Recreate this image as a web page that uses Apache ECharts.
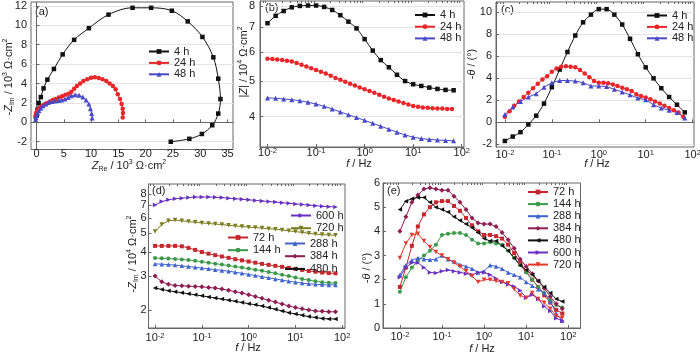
<!DOCTYPE html>
<html><head><meta charset="utf-8">
<script src="https://cdn.jsdelivr.net/npm/echarts@6/dist/echarts.min.js"></script>
<style>html,body{margin:0;padding:0;background:#fff}#c{width:700px;height:355px}</style>
</head><body><div id="c"></div>
<script>
// ---------- frequencies (Hz) ----------
const F6 = [0.01,0.0147,0.0215,0.0316,0.0464,0.0681,0.1,0.147,0.215,0.316,0.464,0.681,1,1.47,2.15,3.16,4.64,6.81,10,14.7,21.5,31.6,46.4,68.1];
const F10 = [0.01,0.0126,0.0158,0.02,0.0251,0.0316,0.0398,0.0501,0.0631,0.0794,0.1,0.126,0.158,0.2,0.251,0.316,0.398,0.501,0.631,0.794,1,1.26,1.58,2,2.51,3.16,3.98,5.01,6.31,7.94,10,12.6,15.8,20,25.1,31.6,39.8,50.1,63.1];
const F7 = [0.01,0.0139,0.0193,0.0268,0.0373,0.0518,0.072,0.1,0.139,0.193,0.268,0.373,0.518,0.72,1,1.39,1.93,2.68,3.73,5.18,7.2,10,13.9,19.3,26.8,37.3,51.8,72];

// ---------- (a) Nyquist ----------
const reA4 = [24.6,28.0,30.3,32.2,33.3,33.7,33.3,32.4,30.4,27.7,24.8,21.0,17.6,13.2,9.6,6.9,4.8,3.2,2.0,1.3,0.8,0.4,0.2,0.05];
const imA4 = [-2.0,-1.7,-1.2,-0.3,0.9,2.4,4.5,6.7,8.8,10.4,11.5,11.8,11.8,11.1,9.7,8.5,7.0,5.5,4.4,3.5,2.6,2.0,1.3,0.7];
const reA24 = [15.8,15.85,15.8,15.6,15.3,14.9,14.5,14.0,13.4,12.8,12.1,11.4,10.7,10.0,9.3,8.6,8.0,7.4,6.9,6.4,5.9,5.3,4.7,4.1,3.5,3.0,2.5,2.0,1.6,1.2,0.85,0.55,0.3,0.1,0.0,-0.1,-0.15,-0.2];
const imA24 = [0.5,0.95,1.4,1.9,2.4,2.9,3.4,3.75,4.0,4.25,4.45,4.58,4.65,4.6,4.45,4.25,4.0,3.75,3.45,3.15,2.95,2.85,2.7,2.55,2.4,2.3,2.15,2.0,1.9,1.75,1.6,1.45,1.3,1.15,1.0,0.85,0.7,0.55];
const reA48 = [10.2,10.1,9.9,9.6,9.1,8.5,7.8,7.1,6.4,5.8,5.2,4.6,4.0,3.4,2.8,2.2,1.7,1.2,0.8,0.45,0.2,0.0,-0.1,-0.15];
const imA48 = [0.45,0.9,1.4,1.9,2.3,2.6,2.8,2.85,2.75,2.55,2.4,2.3,2.25,2.2,2.15,2.05,1.9,1.7,1.45,1.2,0.95,0.7,0.5,0.3];

// ---------- (b) |Z| / 10^4 ----------
const magB4 = [7.18,7.52,7.75,7.93,8.0,8.02,8.02,7.95,7.8,7.55,7.25,6.95,6.5,6.05,5.7,5.45,5.2,5.0,4.9,4.85,4.8,4.76,4.73,4.72];
const magB24 = [5.75,5.74,5.72,5.70,5.68,5.65,5.6,5.54,5.48,5.42,5.36,5.3,5.24,5.17,5.1,5.04,4.98,4.92,4.86,4.8,4.75,4.7,4.65,4.59,4.53,4.48,4.44,4.4,4.36,4.32,4.28,4.26,4.24,4.23,4.22,4.21,4.21,4.2,4.2];
const magB48 = [4.5,4.49,4.47,4.45,4.42,4.38,4.33,4.27,4.2,4.12,4.05,3.98,3.91,3.84,3.77,3.7,3.63,3.57,3.52,3.49,3.47,3.46,3.45,3.44];

// ---------- (c) -theta ----------
const phC4 = [-1.7,-1.3,-0.9,-0.2,0.6,1.7,3.2,4.8,6.4,7.9,9.1,9.8,10.3,10.3,9.8,8.9,7.6,6.2,5.0,4.0,3.1,2.3,1.6,0.9];
const phC24 = [0.5,1.0,1.5,1.9,2.3,2.7,3.1,3.5,3.9,4.2,4.6,4.9,5.05,5.1,5.05,5.0,4.75,4.45,4.1,3.75,3.6,3.6,3.55,3.45,3.3,3.15,3.0,2.85,2.55,2.4,2.25,2.1,1.9,1.7,1.5,1.3,1.1,0.9,0.5];
const phC48 = [0.7,1.4,1.9,2.3,2.6,3.2,3.6,3.8,3.8,3.75,3.6,3.3,3.3,3.25,3.0,2.75,2.5,2.2,2.05,1.6,1.3,1.1,0.9,0.4];

// ---------- (d) impedance, long immersion ----------
const magD600 = [7.0,7.3,7.45,7.55,7.6,7.65,7.7,7.7,7.7,7.68,7.65,7.6,7.55,7.5,7.45,7.4,7.35,7.3,7.25,7.2,7.15,7.1,7.05,7.0,6.95,6.9,6.87,6.85];
const magD720 = [5.1,5.55,5.8,5.85,5.8,5.75,5.7,5.66,5.62,5.58,5.55,5.5,5.46,5.42,5.38,5.35,5.32,5.28,5.25,5.2,5.15,5.1,5.05,5.0,4.95,4.92,4.9,4.88];
const magD72 = [4.3,4.3,4.3,4.3,4.28,4.2,4.1,4.0,3.92,3.85,3.79,3.73,3.67,3.62,3.57,3.52,3.47,3.43,3.39,3.35,3.31,3.27,3.23,3.19,3.16,3.13,3.11,3.1];
const magD144 = [3.72,3.71,3.70,3.68,3.66,3.63,3.6,3.56,3.52,3.48,3.44,3.4,3.36,3.32,3.28,3.24,3.2,3.15,3.1,3.05,3.0,2.95,2.9,2.86,2.82,2.79,2.77,2.76];
const magD288 = [3.47,3.46,3.44,3.42,3.39,3.36,3.33,3.3,3.27,3.24,3.21,3.18,3.14,3.1,3.06,3.02,2.98,2.94,2.9,2.86,2.82,2.79,2.76,2.74,2.72,2.71,2.7,2.7];
const magD384 = [3.0,2.8,2.72,2.68,2.67,2.66,2.65,2.64,2.62,2.6,2.57,2.53,2.49,2.45,2.4,2.35,2.3,2.25,2.2,2.15,2.1,2.06,2.03,2.0,1.98,1.97,1.96,1.96];
const magD480 = [2.6,2.56,2.52,2.49,2.46,2.43,2.4,2.37,2.34,2.31,2.28,2.25,2.22,2.19,2.16,2.13,2.1,2.06,2.02,1.98,1.94,1.91,1.88,1.85,1.83,1.81,1.8,1.8];

// ---------- (e) -theta, long immersion ----------
const phE72 = [1.7,2.5,3.4,4.2,4.7,5.0,5.2,5.25,5.25,5.05,4.85,4.55,4.25,4.0,3.85,3.85,3.8,3.7,3.45,3.1,2.7,2.35,2.0,1.7,1.35,1.05,0.75,0.6];
const phE144 = [1.5,2.1,2.5,2.8,3.0,3.2,3.45,3.85,3.9,3.93,3.93,3.85,3.65,3.5,3.5,3.55,3.5,3.45,3.2,2.9,2.6,2.3,2.0,1.7,1.45,1.15,0.95,0.85];
const phE288 = [2.2,2.6,2.8,2.9,2.85,2.82,2.85,3.0,2.85,2.75,2.62,2.55,2.45,2.3,2.35,2.6,2.55,2.45,2.3,2.2,2.1,1.9,1.75,1.6,1.45,1.1,0.6,0.3];
const phE384 = [4.0,4.6,5.2,5.5,5.75,5.8,5.75,5.7,5.7,5.45,5.2,4.9,4.55,4.35,4.3,4.3,4.2,3.95,3.65,3.3,2.85,2.55,2.25,1.95,1.65,1.3,1.0,0.8];
const phE480 = [4.9,5.25,5.35,5.4,5.4,5.2,5.0,4.9,4.8,4.6,4.45,4.3,4.15,3.95,3.7,3.6,3.6,3.4,3.2,2.9,2.6,2.4,2.2,1.95,1.7,1.45,1.2,1.1];
const phE600 = [2.1,2.5,2.7,2.7,2.5,2.3,2.28,2.35,2.4,2.35,2.3,2.25,2.2,2.3,2.3,2.2,2.05,1.9,1.8,1.72,1.55,1.25,1.38,1.2,0.9,0.7,0.4,0.3];
const phE720 = [2.9,3.5,3.85,3.9,3.6,3.35,3.15,3.0,2.85,2.7,2.55,2.35,2.15,1.9,2.0,2.0,1.95,1.9,1.85,1.6,1.35,1.25,1.45,1.2,1.05,0.8,0.5,0.42];

// ---------- tick labels ----------
const ticksAX = [0,5,10,15,20,25,30,35];
const ticksAY = [-2,0,2,4,6,8,10,12];
const ticksBY = [4,5,6,7,8];
const ticksCY = [-2,0,2,4,6,8,10];
const ticksDY = [2,3,4,5,6,7,8,9];
const ticksEY = [0,1,2,3,4,5,6];
const decades = [0.01,0.1,1,10,100];

const namesA = ['4 h','24 h','48 h'];
const namesD = ['72 h','144 h','288 h','384 h','480 h','600 h','720 h'];

// ---------- styling ----------
const FONT = '"Liberation Sans", Arial, Helvetica, sans-serif';
const TXT = '#222';
const AXC = '#666';
const rich = {
  n:{fontSize:11,lineHeight:14,fontFamily:FONT,color:TXT},
  i:{fontSize:11,lineHeight:14,fontStyle:'italic',fontFamily:FONT,color:TXT},
  sup:{fontSize:7,lineHeight:8,verticalAlign:'top',fontFamily:FONT,color:TXT},
  sub:{fontSize:7,lineHeight:8,verticalAlign:'bottom',fontFamily:FONT,color:TXT}
};
const C = {k:'#111111', r:'#e8262a', b:'#4848c8', dr:'#c4282e', g:'#3a9a4a', bl:'#4063cc', m:'#8e1d52', p:'#6a30c0', o:'#7b7d1e', r2:'#e23a2c'};

const pairs = (xs, ys) => xs.map((x, i) => [x, ys[i]]);
const minorVals = [];
for (let d = -3; d <= 2; d++) for (let m = 2; m <= 9; m++) minorVals.push(m * Math.pow(10, d));

function gridOf(l, t, w, h){ return {left:l, top:t, width:w, height:h, show:true, borderColor:AXC, borderWidth:1, backgroundColor:'transparent', containLabel:false, outerBoundsMode:'none'}; }

const baseLine = {show:true, lineStyle:{color:AXC, width:1}};
const baseTick = {show:true, inside:true, length:3, lineStyle:{color:AXC}};
function valueAxis(gi, min, max, ticks, margin, split){
  return {type:'value', gridIndex:gi, min, max, axisLine:baseLine,
    axisTick:Object.assign({customValues:ticks}, baseTick),
    axisLabel:{customValues:ticks, margin, fontSize:11, fontFamily:FONT, color:TXT},
    splitLine:{show:!!split, lineStyle:{color:'#e4e4e4', width:1}}};
}
function logAxis(gi, min, max, ticks, margin, split, isX){
  const ax = {type:'log', logBase:10, gridIndex:gi, min, max, axisLine:baseLine,
    axisTick:Object.assign({customValues:ticks}, baseTick),
    splitLine:{show:!!split, lineStyle:{color:'#e4e4e4', width:1}}};
  if (isX) {
    ax.axisLabel = {customValues:ticks, margin, formatter:v=>'{n|10}{sup|'+Math.round(Math.log10(v))+'}', rich:{
      n:{fontSize:11,lineHeight:12,fontFamily:FONT,color:TXT},
      sup:{fontSize:7.5,lineHeight:6,verticalAlign:'top',fontFamily:FONT,color:TXT}}};
  } else {
    ax.axisLabel = {customValues:ticks, margin, fontSize:11, fontFamily:FONT, color:TXT, formatter:v=>String(Math.round(v))};
  }
  return ax;
}
function minorAxis(gi, min, max){
  return {type:'log', logBase:10, gridIndex:gi, min, max, axisLine:{show:false},
    axisTick:{show:true, inside:true, length:2, customValues:minorVals.filter(v=>v>min&&v<max), lineStyle:{color:AXC}},
    axisLabel:{show:false}, splitLine:{show:false}};
}

const xAxis = [
  valueAxis(0, -1, 36, ticksAX, -1, false),
  logAxis(1, 0.007, 111.4, decades, 0, false, true),
  logAxis(2, 0.00646, 107, decades, 2, false, true),
  logAxis(3, 0.00724, 114.8, decades, 4, false, true),
  logAxis(4, 0.00398, 195, decades, 2.5, false, true),
  minorAxis(1, 0.007, 111.4),
  minorAxis(2, 0.00646, 107),
  minorAxis(3, 0.00724, 114.8),
  minorAxis(4, 0.00398, 195)
];
const yAxis = [
  valueAxis(0, -2.8, 12.4, ticksAY, 4, true),
  logAxis(1, 3.31, 8.25, ticksBY, 5, true, false),
  valueAxis(2, -2.25, 10.95, ticksCY, 4, true),
  logAxis(3, 1.615, 9.0, ticksDY, 2, false, false),
  valueAxis(4, 0, 6, ticksEY, 3, false)
];

function S(name, xi, yi, data, color, sym, size, rot, smooth){
  return {type:'line', name, xAxisIndex:xi, yAxisIndex:yi, data, symbol:sym, symbolSize:size, symbolRotate:rot||0,
    smooth:smooth||false, showSymbol:true, animation:false, silent:true,
    lineStyle:{color, width:1}, itemStyle:{color, borderWidth:0}};
}
const TRI = 'triangle';
const series = [
  S('4 h',0,0,pairs(reA4,imA4),C.k,'rect',4.5,0,0.35),
  S('24 h',0,0,pairs(reA24,imA24),C.r,'circle',4.5),
  S('48 h',0,0,pairs(reA48,imA48),C.b,TRI,5),
  S('4 h',1,1,pairs(F6,magB4),C.k,'rect',4.5,0,0.3),
  S('24 h',1,1,pairs(F10,magB24),C.r,'circle',4.5),
  S('48 h',1,1,pairs(F6,magB48),C.b,TRI,5),
  S('4 h',2,2,pairs(F6,phC4),C.k,'rect',4.5,0,0.3),
  S('24 h',2,2,pairs(F10,phC24),C.r,'circle',4.5),
  S('48 h',2,2,pairs(F6,phC48),C.b,TRI,5),
  S('72 h',3,3,pairs(F7,magD72),C.dr,'rect',4),
  S('144 h',3,3,pairs(F7,magD144),C.g,'circle',4),
  S('288 h',3,3,pairs(F7,magD288),C.bl,TRI,4.5),
  S('384 h',3,3,pairs(F7,magD384),C.m,'diamond',5),
  S('480 h',3,3,pairs(F7,magD480),C.k,TRI,4.5,90),
  S('600 h',3,3,pairs(F7,magD600),C.p,TRI,4.5,-90),
  S('720 h',3,3,pairs(F7,magD720),C.o,TRI,4.5,180),
  S('72 h',4,4,pairs(F7,phE72),C.dr,'rect',4),
  S('144 h',4,4,pairs(F7,phE144),C.g,'circle',4),
  S('288 h',4,4,pairs(F7,phE288),C.bl,TRI,4.5),
  S('384 h',4,4,pairs(F7,phE384),C.m,'diamond',5),
  S('480 h',4,4,pairs(F7,phE480),C.k,TRI,4.5,90),
  S('600 h',4,4,pairs(F7,phE600),C.p,TRI,4.5,-90),
  S('720 h',4,4,pairs(F7,phE720),C.r2,TRI,4.5,180)
];

function LG(names, left, top, gap, colors){
  return {orient:'vertical', left, top, padding:0, itemGap:gap, itemWidth:20, itemHeight:6,
    selectedMode:false, textStyle:{fontSize:11, lineHeight:10, fontFamily:FONT, color:TXT},
    data:names.map((n,i)=>colors?{name:n, itemStyle:{color:colors[i]}, lineStyle:{color:colors[i]}}:n)};
}
const legend = [
  LG(namesA, 148, 46, 0.4),
  LG(namesA, 414, 9.5, 0.7),
  LG(namesA, 646, 10, 0.4),
  LG(['600 h','720 h'], 290, 210, 1.7, [C.p, C.o]),
  LG(['72 h','144 h'], 227, 232, 1.7, [C.dr, C.g]),
  LG(['288 h','384 h','480 h'], 284, 238, 1.7, [C.bl, C.m, C.k]),
  LG(namesD, 527, 186.5, 1.1, [C.dr, C.g, C.bl, C.m, C.k, C.p, C.r2])
];

function T(x, y, text, rot){
  return {type:'text', x, y, rotation:rot?Math.PI/2:0, silent:true,
    style:{text, rich, align:'center', verticalAlign:'middle', font:'11px '+FONT, fill:TXT}};
}
function P(x, y, text){
  return {type:'text', x, y, silent:true, style:{text, align:'left', verticalAlign:'middle', font:'11px '+FONT, fill:TXT}};
}
const graphic = [
  T(129, 165.5, '{i|Z}{sub|Re}{n| / 10}{sup|3}{n| Ω·cm}{sup|2}'),
  T(9, 77, '{n|-}{i|Z}{sub|Im}{n| / 10}{sup|3}{n| Ω·cm}{sup|2}', true),
  T(359, 164, '{i|f}{n| / Hz}'),
  T(244, 62, '{n||}{i|Z}{n|| / 10}{sup|4}{n| Ω·cm}{sup|2}', true),
  T(597, 164, '{i|f}{n| / Hz}'),
  T(472, 64, '{n|-}{i|θ}{n| / (°)}', true),
  T(248, 348, '{i|f}{n| / Hz}'),
  T(133, 254, '{n|-}{i|Z}{sub|Im}{n| / 10}{sup|4}{n| Ω·cm}{sup|2}', true),
  T(482, 349, '{i|f}{n| / Hz}'),
  T(367, 268, '{n|-}{i|θ}{n| / (°)}', true),
  P(35, 11.5, '(a)'),
  P(265, 8, '(b)'),
  P(501, 10, '(c)'),
  P(152, 191, '(d)'),
  P(387, 191, '(e)')
];

const chart = echarts.init(document.getElementById('c'), null, {renderer:'canvas'});
chart.setOption({
  animation:false,
  backgroundColor:'#fff',
  textStyle:{fontFamily:FONT},
  grid:[gridOf(31,2,202,147.5), gridOf(260,1,204,146), gridOf(496,2,198,145), gridOf(148.5,184,196.5,144), gridOf(383,183,197.5,145)],
  xAxis, yAxis, series, legend, graphic
});
</script></body></html>
